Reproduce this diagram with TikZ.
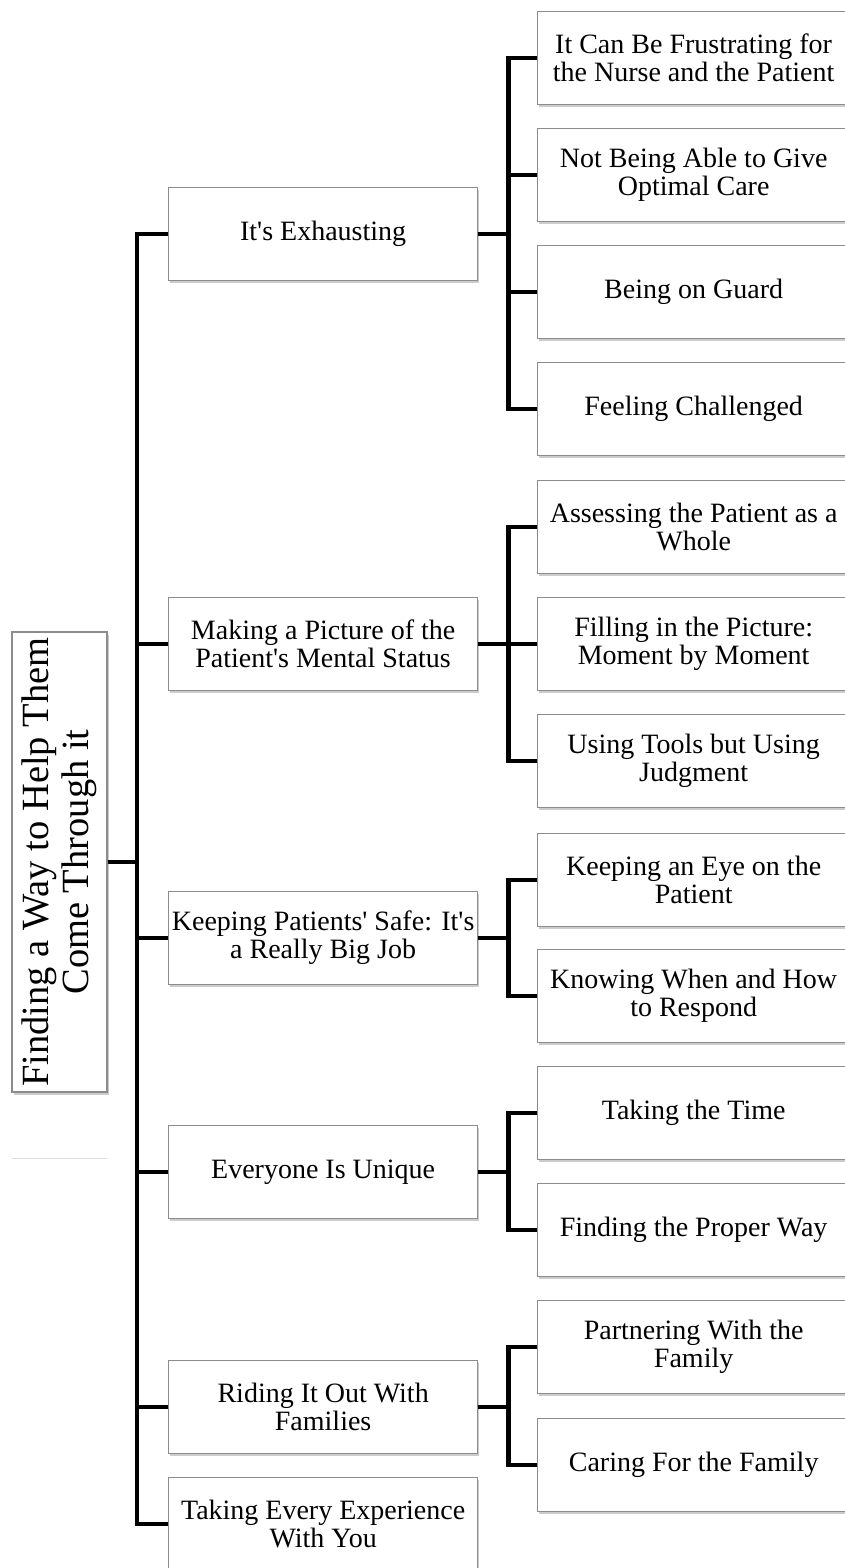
\documentclass[tikz,border=0pt]{standalone}
\usepackage{fontspec}
\setmainfont{Liberation Serif}[Ligatures=TeXOff]
\usetikzlibrary{shadows}
\definecolor{boxline}{RGB}{140,140,140}
\definecolor{faint}{RGB}{220,220,220}

\begin{document}
\begin{tikzpicture}[x=1pt,y=-1pt,line join=miter,
  topic/.style={draw=boxline,line width=1.3pt,fill=white,
    drop shadow={shadow xshift=1.5pt,shadow yshift=-2.5pt,opacity=0.4},
    minimum width=309pt,minimum height=93pt,inner sep=1pt,align=center,
    font=\fontsize{28}{28}\selectfont},
  sub/.style={topic,minimum width=312pt},
  link/.style={line width=4.5pt}]
  \useasboundingbox (0,0) rectangle (844,1568);
  \coordinate (trunk) at (137,0);
  % root, turned on its side
  \node[topic,minimum width=460pt,minimum height=95pt,rotate=90,
    font=\fontsize{38.5}{40}\selectfont] (root) at (59.5,862)
    {Finding a Way to Help Them\\Come Through it};
  \draw[faint,line width=1pt] (12,1158) -- (107,1158);
  % main themes
  \foreach \n/\y/\t in {exh/234/{It's Exhausting},
      pic/644/{Making a Picture of the\\Patient's Mental Status},
      safe/938/{Keeping Patients' Safe: It's\\a Really Big Job},
      uniq/1172/{Everyone Is Unique},
      fam/1407/{Riding It Out With\\Families},
      exp/1524/{Taking Every Experience\\With You}}
    \node[topic,anchor=west] (\n) at (168,\y) {\t};
  % subthemes
  \foreach \n/\y/\t in {frus/58/{It Can Be Frustrating for\\the Nurse and the Patient},
      optm/175/{Not Being Able to Give\\Optimal Care},
      guard/292/{Being on Guard},
      chal/409/{Feeling Challenged},
      whole/527/{Assessing the Patient as a\\Whole},
      fill/644/{Filling in the Picture:\\Moment by Moment},
      tools/761/{Using Tools but Using\\Judgment},
      eye/880/{Keeping an Eye on the\\Patient},
      resp/996/{Knowing When and How\\to Respond},
      time/1113/{Taking the Time},
      way/1230/{Finding the Proper Way},
      partner/1347/{Partnering With the\\Family},
      care/1465/{Caring For the Family}}
    \node[sub,anchor=west] (\n) at (537,\y) {\t};
  \foreach \n in {exh,pic,safe,uniq,fam,exp}
    \draw[link] (root.south) -- (root.south -| trunk) |- (\n.west);
  \foreach \p/\c in {exh/frus,exh/optm,exh/guard,exh/chal,pic/whole,pic/fill,pic/tools,
      safe/eye,safe/resp,uniq/time,uniq/way,fam/partner,fam/care}
    \draw[link] (\p.east) -- ++(30,0) |- (\c.west);
\end{tikzpicture}
\end{document}
